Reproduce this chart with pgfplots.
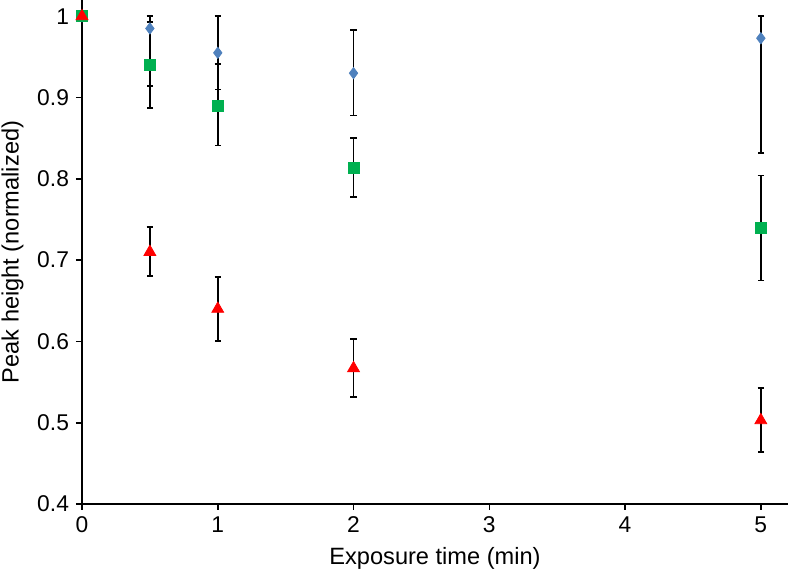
\documentclass[border=0pt]{standalone}
\usepackage{fontspec}
\setmainfont{Liberation Sans}
\usepackage{pgfplots}
\pgfplotsset{compat=1.18}

\definecolor{ptblue}{RGB}{79,129,189}
\definecolor{ptgreen}{RGB}{0,176,80}
\definecolor{ptred}{RGB}{255,0,0}

\begin{document}
\begin{tikzpicture}
\useasboundingbox (-41pt,-34.5pt) rectangle (353pt,252pt);
\begin{axis}[
  scale only axis,
  width=353pt, height=252pt,
  xmin=0, xmax=5.2, ymin=0.4, ymax=1.02,
  axis x line*=bottom, axis y line*=left,
  axis line style={line width=0.8pt, -},
  tick align=outside, tick style={black, line width=0.8pt},
  major tick length=3pt,
  xtick={0,1,2,3,4,5},
  ytick={0.4,0.5,0.6,0.7,0.8,0.9,1},
  yticklabels={0.4,0.5,0.6,0.7,0.8,0.9,1},
  xlabel={Exposure time (min)},
  ylabel={Peak height (normalized)},
  label style={font=\fontsize{11.8}{14}\selectfont},
  tick label style={font=\fontsize{11.4}{13}\selectfont},
  /pgf/number format/assume math mode=true,
  clip=false,
  error bars/error bar style={black, line width=0.9pt},
  error bars/error mark options={rotate=90, mark size=1.6pt, line width=0.9pt, black},
]
\addplot[only marks, mark=diamond*, mark size=2.8pt, color=ptblue,
  error bars/.cd, y dir=both, y explicit]
  table[x=x, y=y, y error plus=ep, y error minus=em] {
x    y      ep     em
0    1.000  0      0
0.5  0.985  0.015  0.071
1    0.955  0.045  0.045
2    0.930  0.053  0.052
5    0.973  0.027  0.141
};
\addplot[only marks, mark=square*, mark size=2.7pt, color=ptgreen,
  error bars/.cd, y dir=both, y explicit]
  table[x=x, y=y, y error plus=ep, y error minus=em] {
x    y      ep     em
0    1.000  0      0
0.5  0.940  0.053  0.053
1    0.890  0.051  0.049
2    0.813  0.037  0.035
5    0.740  0.064  0.065
};
\addplot[only marks, mark=triangle*, mark size=3.4pt, color=ptred,
  error bars/.cd, y dir=both, y explicit]
  table[x=x, y=y, y error plus=ep, y error minus=em] {
x    y      ep     em
0    1.000  0      0
0.5  0.710  0.031  0.030
1    0.640  0.039  0.039
2    0.567  0.036  0.035
5    0.503  0.040  0.039
};
\end{axis}
\end{tikzpicture}
\end{document}
